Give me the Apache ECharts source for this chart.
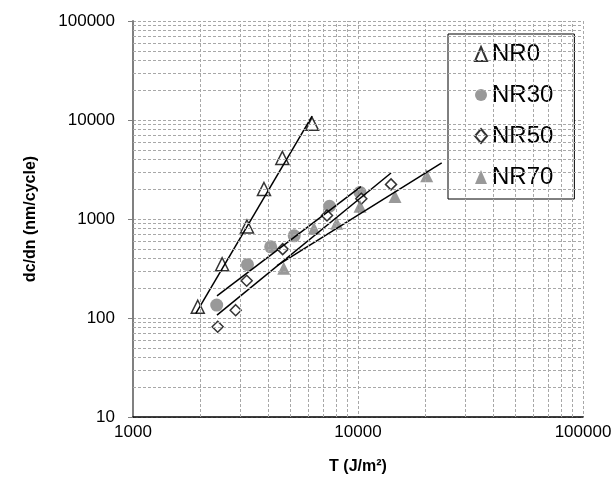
<!DOCTYPE html>
<html>
<head>
<meta charset="utf-8">
<script src="https://cdn.jsdelivr.net/npm/echarts@6/dist/echarts.min.js"></script>
<style>
html, body { margin: 0; padding: 0; background: #fff; }
#chart { width: 615px; height: 480px; }
</style>
</head>
<body>
<div id="chart"></div>
<script>
// measured points [T, dc/dn]
var nr0 = [[1940, 130], [2490, 349], [3210, 840], [3820, 2010], [4610, 4140], [6250, 9140]];
var nr30 = [[2355, 135], [3226, 346], [4092, 523], [5204, 676], [7470, 1345], [10205, 1855]];
var nr50 = [[2379, 81.5], [2860, 120], [3201, 238], [4627, 496], [7281, 1085], [10344, 1602], [14020, 2236]];
var nr70 = [[4676, 318], [6375, 801], [8043, 908], [10205, 1345], [14604, 1690], [20200, 2738]];

// power-law fit lines, start and end points
var fit0 = [[1900, 111], [6250, 10920]];
var fit30 = [[2362, 167], [10300, 2120]];
var fit50 = [[2362, 107], [14020, 2916]];
var fit70 = [[4365, 338], [23550, 3683]];

var names = ['NR0', 'NR30', 'NR50', 'NR70'];

// minor grid lines of the log axes
var mantissa = [2, 3, 4, 5, 6, 7, 8, 9];
var xDecades = [1000, 10000];
var yDecades = [10, 100, 1000, 10000];

var minorLines = [];
xDecades.forEach(function (d) {
    mantissa.forEach(function (m) { minorLines.push({xAxis: m * d}); });
});
yDecades.forEach(function (d) {
    mantissa.forEach(function (m) { minorLines.push({yAxis: m * d}); });
});

var font = 'Liberation Sans, Arial, sans-serif';
var gridStyle = {color: '#a8a8a8', width: 1, type: [3, 2]};

function fitLine(data) {
    return {
        type: 'line',
        data: data,
        symbol: 'none',
        z: 4,
        silent: true,
        lineStyle: {color: '#000', width: 1.5}
    };
}

var chart = echarts.init(document.getElementById('chart'));

var option = {
    animation: false,
    textStyle: {fontFamily: font},
    grid: {left: 133, right: 32, top: 21, bottom: 63},
    legend: {
        data: names,
        orient: 'vertical',
        left: 448,
        top: 34,
        itemWidth: 12,
        itemHeight: 14,
        itemGap: 17,
        padding: [8, 21, 10, 26],
        backgroundColor: '#fff',
        borderColor: '#000',
        borderWidth: 1,
        borderRadius: 0,
        selectedMode: false,
        textStyle: {fontFamily: font, fontSize: 24, color: '#000'}
    },
    xAxis: {
        type: 'log',
        logBase: 10,
        min: 1000,
        max: 100000,
        name: 'T (J/m²)',
        nameLocation: 'middle',
        nameGap: 42,
        nameTextStyle: {fontFamily: font, fontSize: 16, fontWeight: 'bold', color: '#000'},
        axisLine: {lineStyle: {color: '#000', width: 1.5}},
        axisTick: {show: false},
        axisLabel: {
            fontFamily: font, fontSize: 17, color: '#000', margin: 7,
            formatter: function (v) { return String(Math.round(v)); }
        },
        splitLine: {show: true, lineStyle: gridStyle}
    },
    yAxis: {
        type: 'log',
        logBase: 10,
        min: 10,
        max: 100000,
        name: 'dc/dn (nm/cycle)',
        nameLocation: 'middle',
        nameGap: 94,
        nameTextStyle: {fontFamily: font, fontSize: 16, fontWeight: 'bold', color: '#000'},
        axisLine: {show: true, lineStyle: {color: '#808080', width: 2}},
        axisTick: {show: true, length: 5, lineStyle: {color: '#808080'}},
        axisLabel: {
            fontFamily: font, fontSize: 17, color: '#000', margin: 18,
            formatter: function (v) { return String(Math.round(v)); }
        },
        splitLine: {show: true, lineStyle: gridStyle}
    },
    series: [
        {
            type: 'scatter',
            data: [],
            z: 1,
            silent: true,
            markLine: {
                silent: true,
                symbol: 'none',
                label: {show: false},
                lineStyle: gridStyle,
                data: minorLines
            }
        },
        {
            name: 'NR0', type: 'scatter', data: nr0, z: 3,
            symbol: 'triangle', symbolSize: 13,
            itemStyle: {color: '#fff', borderColor: '#000', borderWidth: 1.5}
        },
        {
            name: 'NR30', type: 'scatter', data: nr30, z: 3,
            symbol: 'circle', symbolSize: 13,
            itemStyle: {color: '#808080'}
        },
        {
            name: 'NR50', type: 'scatter', data: nr50, z: 3,
            symbol: 'diamond', symbolSize: 11,
            itemStyle: {color: '#fff', borderColor: '#000', borderWidth: 1.5}
        },
        {
            name: 'NR70', type: 'scatter', data: nr70, z: 3,
            symbol: 'triangle', symbolSize: 13,
            itemStyle: {color: '#808080'}
        },
        fitLine(fit0),
        fitLine(fit30),
        fitLine(fit50),
        fitLine(fit70)
    ]
};

chart.setOption(option);
</script>
</body>
</html>
